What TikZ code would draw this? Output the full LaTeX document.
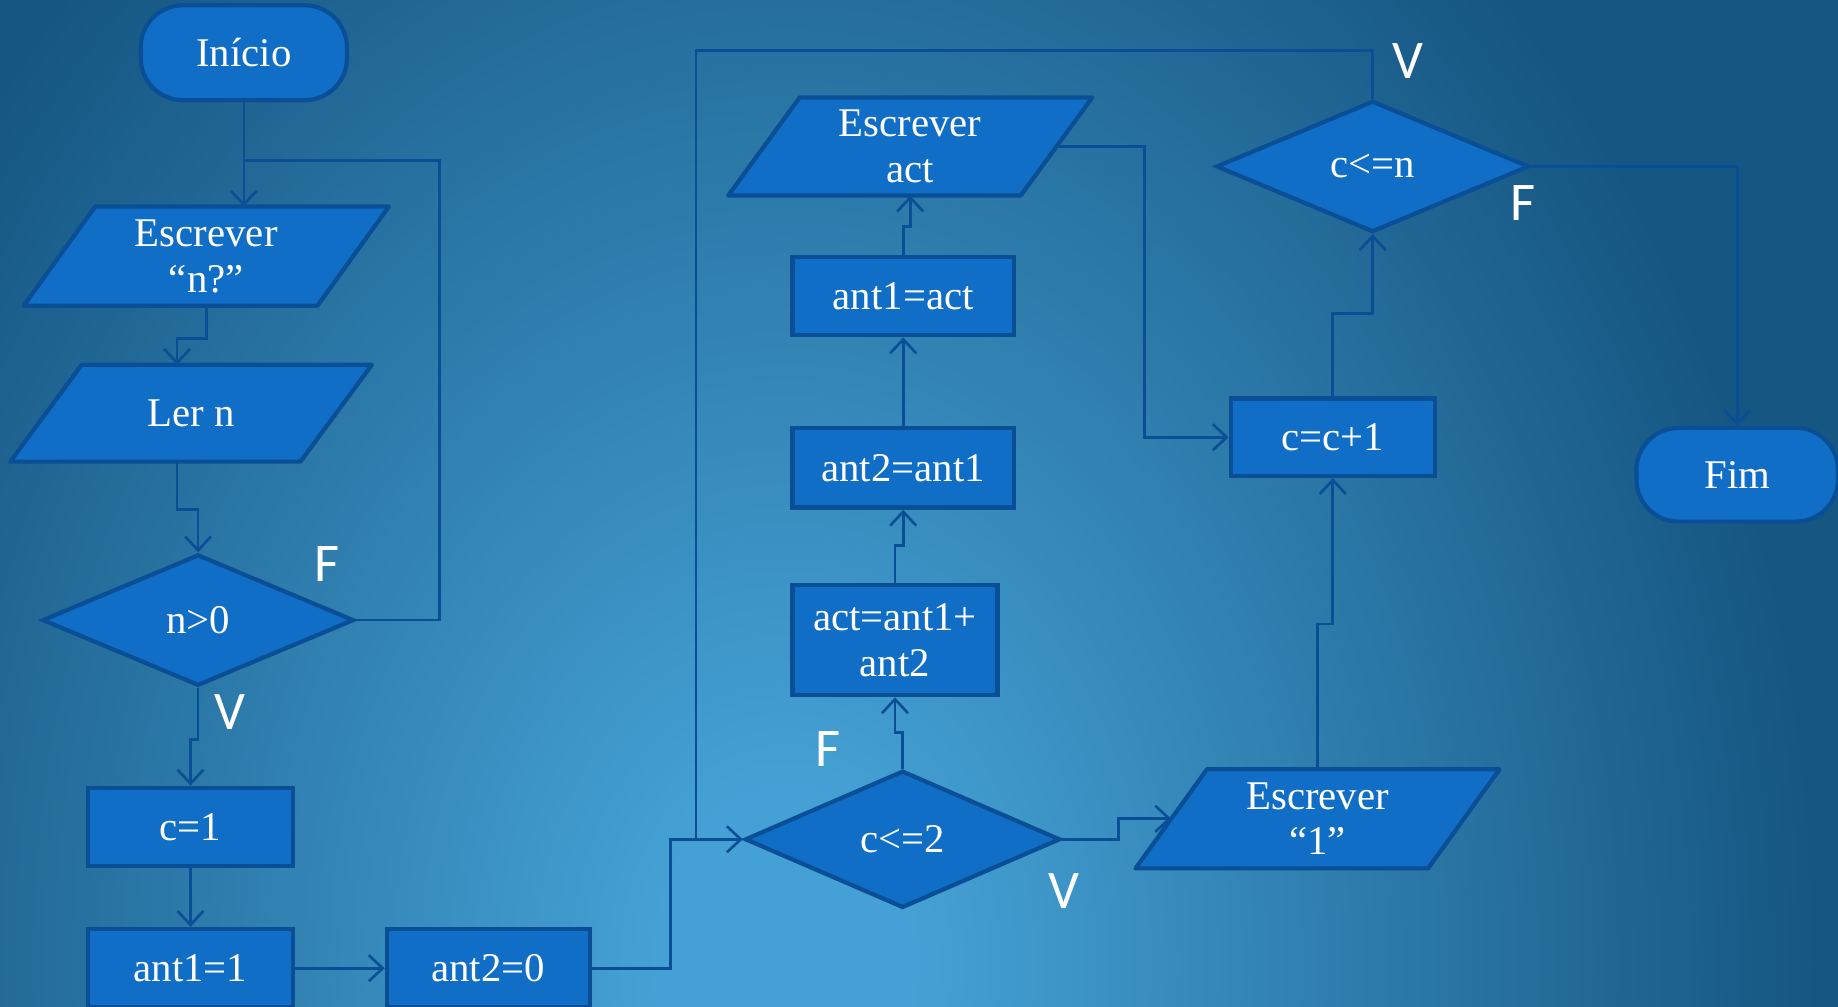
\documentclass[tikz,border=0pt]{standalone}
\usepackage{fontspec}
\setmainfont{Liberation Serif}
\newfontfamily\branchfont{Carlito}
\usetikzlibrary{shapes.geometric,arrows.meta,calc}
\definecolor{boxfill}{RGB}{16,110,198}
\definecolor{boxline}{RGB}{10,79,150}
\definecolor{bglight}{RGB}{69,161,213}
\definecolor{bgdark}{RGB}{22,86,130}
\newcommand{\px}{0.011722cm}
\pgfdeclareradialshading{backdrop}{\pgfpoint{0bp}{0bp}}{color(0bp)=(bglight); color(3bp)=(bglight); color(25bp)=(bgdark); color(50bp)=(bgdark)}
\pgfdeclarelayer{backdroplayer}
\pgfdeclarelayer{framelayer}
\pgfsetlayers{backdroplayer,framelayer,main}
\tikzset{
  block/.style={draw=boxline, line width=1.2pt, fill=boxfill, text=white,
    font=\fontsize{11.6}{13}\selectfont, align=center, inner sep=0pt},
  proc/.style={block, rectangle},
  io/.style={block, rectangle, draw=none, fill=none},
  ioframe/.style={draw=boxline, line width=1.2pt, fill=boxfill, line join=round},
  test/.style={block, diamond},
  term/.style={block, rectangle, rounded corners=12pt},
  flow/.style={draw=boxline, line width=0.75pt, -{Straight Barb[length=1.4mm,width=2.6mm]}},
  link/.style={draw=boxline, line width=0.75pt},
  branch/.style={text=white, font=\branchfont\fontsize{15.5}{18}\selectfont}
}
\begin{document}
\begin{tikzpicture}[x=\px,y=-\px]
    \useasboundingbox (0,0) rectangle (1568,859);
    \begin{pgfonlayer}{backdroplayer}
        \fill[bgdark] (0,0) rectangle (1568,859);
        \begin{scope}
            \clip (0,0) rectangle (1568,859);
            \shade[shading=backdrop] (670,820) ellipse [x radius=880, y radius=1150];
        \end{scope}
    \end{pgfonlayer}

    \node[term, minimum width=176*\px, minimum height=81*\px] (ini) at (208,45) {Início};
    \node[io, minimum width=247*\px, minimum height=81*\px] (nq) at (176,218.5) {Escrever\\“n?”};
    \node[io, minimum width=244*\px, minimum height=79*\px] (ln) at (163,352.5) {Ler n};
    \node[test, minimum width=266*\px, minimum height=112*\px] (d1) at (169,529) {n>0};
    \node[proc, minimum width=175*\px, minimum height=67*\px] (c1) at (162.5,705.5) {c=1};
    \node[proc, minimum width=175*\px, minimum height=67*\px] (a1) at (162.5,826) {ant1=1};
    \node[proc, minimum width=173*\px, minimum height=67*\px] (a2) at (416.5,826) {ant2=0};
    \node[test, minimum width=269*\px, minimum height=117*\px] (d2) at (770,716) {c<=2};
    \node[proc, minimum width=175*\px, minimum height=94*\px] (ac) at (763.5,546) {act=ant1+\\ant2};
    \node[proc, minimum width=189*\px, minimum height=68*\px] (b2) at (770.5,399) {ant2=ant1};
    \node[proc, minimum width=189*\px, minimum height=67*\px] (b1) at (770.5,252.5) {ant1=act};
    \node[io, minimum width=246*\px, minimum height=80*\px] (wa) at (776.5,125) {Escrever\\act};
    \node[test, minimum width=267*\px, minimum height=112*\px] (d3) at (1171,142) {c<=n};
    \node[proc, minimum width=174*\px, minimum height=66*\px] (cc) at (1137,373) {c=c+1};
    \node[term, minimum width=172*\px, minimum height=80*\px] (fim) at (1482,405) {Fim};
    \node[io, minimum width=246*\px, minimum height=81*\px] (w1) at (1124,698.5) {Escrever\\“1”};

    \begin{pgfonlayer}{framelayer}
        \foreach \n in {nq,ln,wa,w1}
            \draw[ioframe] ($(\n.north west)+(30.5,0)$) -- ($(\n.north east)+(30.5,0)$)
                -- ($(\n.south east)+(-30.5,0)$) -- ($(\n.south west)+(-30.5,0)$) -- cycle;
    \end{pgfonlayer}

    \node[branch] (f1) at (279,481) {F};
    \node[branch] (v1) at (196,607) {V};
    \node[branch] (f2) at (706,639) {F};
    \node[branch] (v2) at (908,760) {V};
    \node[branch] (v3) at (1201,52) {V};
    \node[branch] (f3) at (1299,173) {F};

    \coordinate (j1) at (ini.south |- 0,137);
    \coordinate (j2) at ($(d2.west)+(-40,0)$);

    \draw[flow] (ini.south) -- (ini.south |- nq.north);
    \draw[link] (d1.east) -- ++(71,0) |- (j1);
    \draw[flow] (nq.south) -- ++(0,28) -| ($(ln.north)+(-12,0)$);
    \draw[flow] ($(ln.south)+(-12,0)$) -- ++(0,41) -| (d1.north);
    \draw[flow] (d1.south) -- ++(0,44) -| (c1.north);
    \draw[flow] (c1.south) -- (a1.north);
    \draw[flow] (a1.east) -- (a2.west);
    \draw[flow] (a2.east) -- ++(67,0) |- (d2.west);
    \draw[flow] (d2.north) -- ++(0,-31) -| (ac.south);
    \draw[flow] (ac.north) -- ++(0,-32) -| (b2.south);
    \draw[flow] (b2.north) -- (b1.south);
    \draw[flow] (b1.north) -- ++(0,-24) -| (wa.south);
    \draw[flow] (wa.east) -- ++(75,0) |- (cc.west);
    \draw[flow] (d2.east) -- ++(48,0) |- (w1.west);
    \draw[flow] (w1.north) -- ++(0,-124) -| (cc.south);
    \draw[flow] (cc.north) -- ++(0,-71) -| (d3.south);
    \draw[link] (d3.north) |- (j2 |- 0,43) -- (j2);
    \draw[flow] (d3.east) -| (fim.north);
\end{tikzpicture}
\end{document}
